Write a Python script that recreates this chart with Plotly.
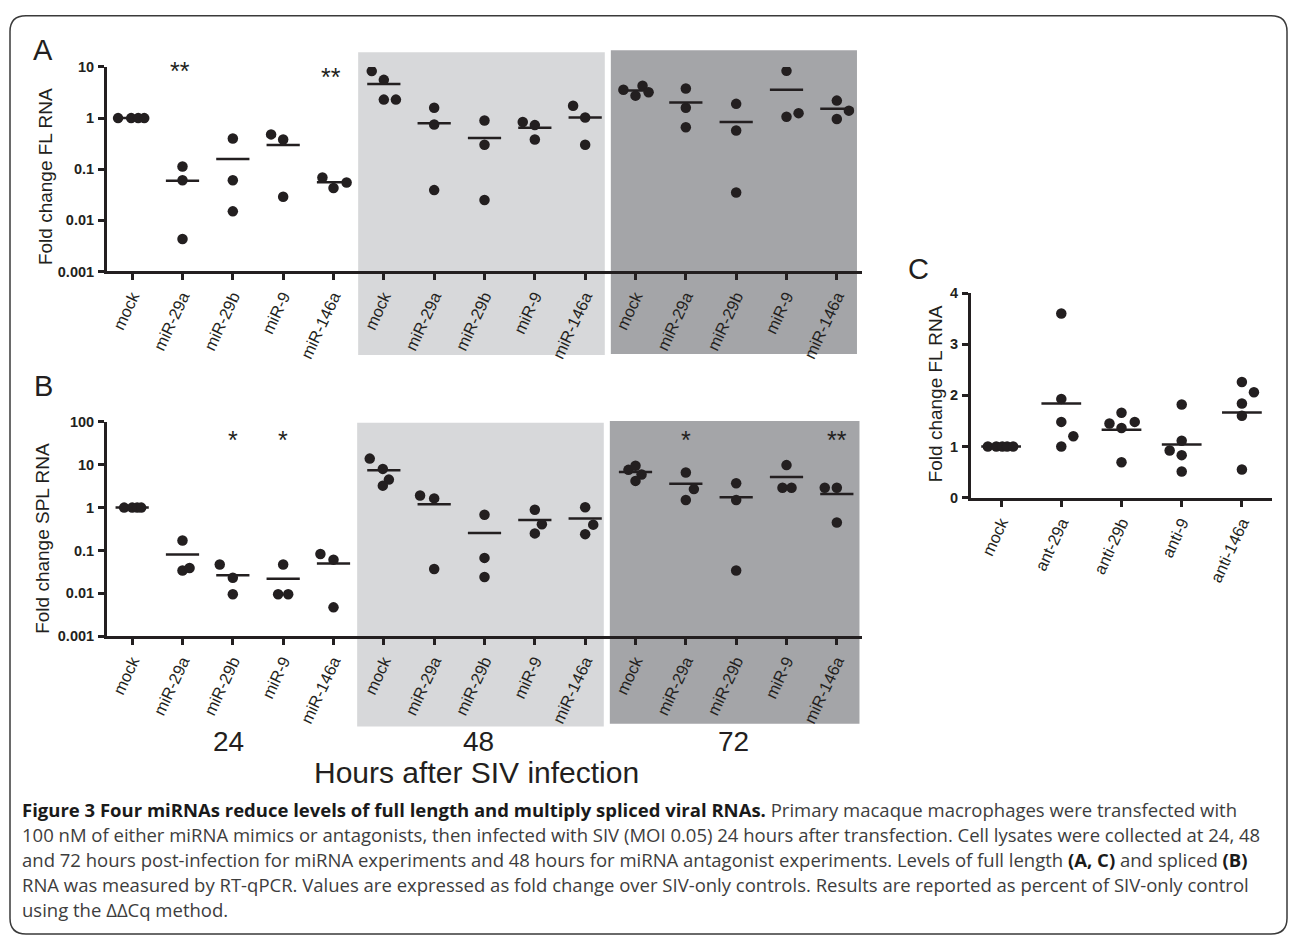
import numpy as np
import plotly.graph_objects as go

W, H = 1290, 945

# ---------------- data ----------------
mimic_labels = ["mock", "miR-29a", "miR-29b", "miR-9", "miR-146a"]
hour_labels = ["24", "48", "72"]
antag_labels = ["mock", "ant-29a", "anti-29b", "anti-9", "anti-146a"]

# Panel A: fold change FL RNA (15 groups: 24h, 48h, 72h x 5 treatments)
fl_values = [
    [1, 1, 1, 1], [0.113, 0.061, 0.0043], [0.40, 0.061, 0.015], [0.48, 0.38, 0.029], [0.069, 0.043, 0.055],
    [8.3, 5.6, 2.3, 2.3], [1.6, 0.75, 0.039], [0.90, 0.30, 0.025], [0.84, 0.73, 0.38], [1.74, 1.03, 0.30],
    [3.6, 4.3, 2.75, 3.2], [3.8, 1.6, 0.66], [1.9, 0.57, 0.035], [8.4, 1.06, 1.25], [2.2, 1.4, 0.96],
]
fl_jitter = [
    [-0.28, -0.02, 0.12, 0.24], [0, 0, 0], [0, 0, 0], [-0.24, 0, 0], [-0.22, 0, 0.26],
    [-0.24, 0, 0, 0.24], [0, 0, 0], [0, 0, 0], [-0.24, 0, 0], [-0.24, 0, 0],
    [-0.24, 0.14, 0, 0.26], [0, 0, 0], [0, 0, 0], [0, 0, 0.24], [0, 0.24, 0],
]
fl_sig = ["", "**", "", "", "**", "", "", "", "", "", "", "", "", "", ""]

# Panel B: fold change SPL RNA
spl_values = [
    [1, 1, 1, 1], [0.17, 0.034, 0.039], [0.047, 0.023, 0.0095], [0.047, 0.0095, 0.0095], [0.083, 0.061, 0.0047],
    [13.9, 8.0, 4.5, 3.25], [1.92, 1.64, 0.037], [0.68, 0.067, 0.024], [0.89, 0.41, 0.25], [1.02, 0.40, 0.24],
    [7.6, 9.5, 5.9, 4.2], [6.6, 2.7, 1.5], [3.7, 1.5, 0.034], [9.8, 2.9, 2.9], [2.9, 2.9, 0.45],
]
spl_jitter = [
    [-0.16, 0, 0.1, 0.18], [0, 0, 0.14], [-0.26, 0, 0], [0, -0.1, 0.1], [-0.26, 0, 0],
    [-0.28, -0.02, 0.1, -0.02], [-0.28, 0, 0], [0, 0, 0], [0, 0.14, 0], [0, 0.16, 0],
    [-0.14, 0, 0.12, 0], [0, 0.16, 0], [0, 0, 0], [0, -0.08, 0.1], [-0.24, 0, 0],
]
spl_sig = ["", "", "*", "*", "", "", "", "", "", "", "", "*", "", "", "**"]

# Panel C: fold change FL RNA, antagonists (48 h)
ant_values = [
    [1, 1, 1, 1, 1], [3.6, 1.93, 1.48, 1.2, 1.0], [1.66, 1.45, 1.48, 1.36, 0.69],
    [1.82, 1.11, 0.92, 0.83, 0.51], [2.26, 2.06, 1.84, 1.60, 0.55],
]
ant_jitter = [
    [-0.22, -0.08, 0.02, 0.1, 0.2], [0, 0, 0, 0.2, 0], [0, -0.2, 0.22, 0, 0],
    [0, 0, -0.2, 0, 0], [0, 0.2, 0, 0, 0],
]
ant_sig = ["", "*", "**", "", "*"]

# ---------------- helpers ----------------
INK = "#231f20"
FONT = "Liberation Sans, Arial, Helvetica, sans-serif"


def px_x(p):
    return p / W


def px_y(p):
    return 1 - p / H


def points(values, jitter):
    xs, ys = [], []
    for i, (vals, jit) in enumerate(zip(values, jitter)):
        for v, j in zip(vals, jit):
            xs.append(i + j)
            ys.append(v)
    return xs, ys


def means(values, hw=0.33):
    xs, ys = [], []
    for i, vals in enumerate(values):
        m = float(np.mean(vals))
        xs += [i - hw, i + hw, None]
        ys += [m, m, None]
    return xs, ys


fig = go.Figure()

panels = [
    (fl_values, fl_jitter, "x", "y"),
    (spl_values, spl_jitter, "x2", "y2"),
    (ant_values, ant_jitter, "x3", "y3"),
]
for vals, jit, xa, ya in panels:
    mx, my = means(vals)
    fig.add_trace(go.Scatter(x=mx, y=my, mode="lines", line=dict(color=INK, width=2.5),
                             xaxis=xa, yaxis=ya, hoverinfo="skip", showlegend=False))
    px_, py_ = points(vals, jit)
    fig.add_trace(go.Scatter(x=px_, y=py_, mode="markers",
                             marker=dict(color=INK, size=10.5, line=dict(width=0)),
                             xaxis=xa, yaxis=ya, showlegend=False))

cat_labels_ab = mimic_labels * len(hour_labels)

xcommon = dict(showline=True, linewidth=3, linecolor=INK, ticks="outside", ticklen=6,
               tickwidth=2.5, tickcolor=INK, tickangle=-65, showgrid=False, zeroline=False,
               tickfont=dict(family=FONT, size=16.5, color=INK))
ycommon = dict(showline=True, linewidth=3, linecolor=INK, ticks="outside", ticklen=6,
               tickwidth=2.5, tickcolor=INK, showgrid=False, zeroline=False,
               tickfont=dict(family=FONT, size=14.5, color=INK), ticklabelstandoff=1)

log_vals_a = [0.001, 0.01, 0.1, 1, 10]
log_text_a = ["<b>0.001</b>", "<b>0.01</b>", "<b>0.1</b>", "<b>1</b>", "<b>10</b>"]
log_vals_b = [0.001, 0.01, 0.1, 1, 10, 100]
log_text_b = ["<b>0.001</b>", "<b>0.01</b>", "<b>0.1</b>", "<b>1</b>", "<b>10</b>", "<b>100</b>"]

fig.update_layout(
    width=W, height=H, margin=dict(l=0, r=0, t=0, b=0),
    paper_bgcolor="white", plot_bgcolor="rgba(0,0,0,0)",
    showlegend=False,
    xaxis=dict(xcommon, domain=[px_x(107), px_x(862)], range=[-0.5, 14.5], anchor="y",
               tickmode="array", tickvals=list(range(15)), ticktext=cat_labels_ab),
    yaxis=dict(ycommon, type="log", domain=[px_y(268), px_y(60)], range=[-3, 1], anchor="x",
               tickmode="array", tickvals=log_vals_a, ticktext=log_text_a),
    xaxis2=dict(xcommon, domain=[px_x(107), px_x(862)], range=[-0.5, 14.5], anchor="y2",
                tickmode="array", tickvals=list(range(15)), ticktext=cat_labels_ab),
    yaxis2=dict(ycommon, type="log", domain=[px_y(639), px_y(421)], range=[-3, 2], anchor="x2",
                tickmode="array", tickvals=log_vals_b, ticktext=log_text_b),
    xaxis3=dict(xcommon, domain=[px_x(971), px_x(1272)], range=[-0.5, 4.5], anchor="y3",
                tickmode="array", tickvals=list(range(5)), ticktext=antag_labels),
    yaxis3=dict(ycommon, domain=[px_y(498), px_y(290)], range=[0, 4], anchor="x3",
                tickmode="array", tickvals=[0, 1, 2, 3, 4],
                ticktext=["<b>0</b>", "<b>1</b>", "<b>2</b>", "<b>3</b>", "<b>4</b>"]),
)

# ---------------- background boxes (48 h light, 72 h dark) ----------------
LIGHT = "#d7d8da"
DARK = "#a4a5a8"
shapes = []
for (x0, x1, y0, y1, col, xr) in [
    (4.49, 9.39, 45, 353, LIGHT, "x"), (9.51, 14.4, 43, 352, DARK, "x"),
    (4.47, 9.37, 422, 731, LIGHT, "x2"), (9.49, 14.45, 420, 728, DARK, "x2"),
]:
    shapes.append(dict(type="rect", xref=xr, yref="paper", x0=x0, x1=x1,
                       y0=px_y(y1), y1=px_y(y0), fillcolor=col, line=dict(width=0), layer="below"))

# rounded outer frame
fx0, fy0, fx1, fy1, r = 10, 8, 1287, 942, 16
rx, ry = r / W, r / H
X0, X1, Y0, Y1 = px_x(fx0), px_x(fx1), px_y(fy0), px_y(fy1)
path = (f"M {X0+rx},{Y0} L {X1-rx},{Y0} Q {X1},{Y0} {X1},{Y0-ry} L {X1},{Y1+ry} "
        f"Q {X1},{Y1} {X1-rx},{Y1} L {X0+rx},{Y1} Q {X0},{Y1} {X0},{Y1+ry} "
        f"L {X0},{Y0-ry} Q {X0},{Y0} {X0+rx},{Y0} Z")
shapes.append(dict(type="path", xref="paper", yref="paper", path=path,
                   line=dict(color="#3a3a3a", width=1.5), layer="below"))
fig.update_layout(shapes=shapes)

# ---------------- annotations ----------------
ann = []


def txt(x, y, text, size, angle=0, xanchor="center", yanchor="middle", color=INK, family=FONT):
    ann.append(dict(xref="paper", yref="paper", x=px_x(x), y=px_y(y), text=text, showarrow=False,
                    textangle=angle, xanchor=xanchor, yanchor=yanchor,
                    font=dict(family=family, size=size, color=color)))


# panel letters
txt(43, 43, "A", 29)
txt(43, 385, "B", 29)
txt(919, 265, "C", 29)

# y axis titles
txt(45, 172, "Fold change FL RNA", 19, angle=-90)
txt(43, 540, "Fold change SPL RNA", 19, angle=-90)
txt(935, 392, "Fold change FL RNA", 19, angle=-90)

# significance stars
STAR = 25
sig_y_a = [1.0 if i == 1 else 0.88 for i in range(15)]
for i, s in enumerate(fl_sig):
    if s:
        ann.append(dict(xref="x", yref="y", x=i - 0.04, y=sig_y_a[i], text=s, showarrow=False,
                        font=dict(family=FONT, size=STAR, color=INK), yanchor="middle", yshift=-4))
for i, s in enumerate(spl_sig):
    if s:
        ann.append(dict(xref="x2", yref="y2", x=i, y=1.66, text=s, showarrow=False,
                        font=dict(family=FONT, size=STAR, color=INK), yanchor="middle", yshift=-4))
for i, s in enumerate(ant_sig):
    if s:
        ann.append(dict(xref="x3", yref="y3", x=i, y=4.13, text=s, showarrow=False,
                        font=dict(family=FONT, size=STAR, color=INK), yanchor="middle", yshift=-4))

# hours labels
for h, xc in zip(hour_labels, [228, 478, 733]):
    txt(xc, 746, h, 28)
txt(476, 778, "Hours after SIV infection", 30)

# caption
CAP_FONT = "Open Sans, Noto Sans, sans-serif"
CAP_COL = "#3d3d3d"
caption_lines = [
    "<b style='color:#1a1a1a'>Figure 3 Four miRNAs reduce levels of full length and multiply spliced viral RNAs.</b> "
    "Primary macaque macrophages were transfected with",
    "100 nM of either miRNA mimics or antagonists, then infected with SIV (MOI 0.05) 24 hours after transfection. "
    "Cell lysates were collected at 24, 48",
    "and 72 hours post-infection for miRNA experiments and 48 hours for miRNA antagonist experiments. "
    "Levels of full length <b style='color:#1a1a1a'>(A, C)</b> and spliced <b style='color:#1a1a1a'>(B)</b>",
    "RNA was measured by RT-qPCR. Values are expressed as fold change over SIV-only controls. "
    "Results are reported as percent of SIV-only control",
    "using the \u0394\u0394Cq method.",
]
for k, line in enumerate(caption_lines):
    txt(20, 815 + k * 25.6, line, 18.5, xanchor="left", color=CAP_COL, family=CAP_FONT)

fig.update_layout(annotations=ann)

fig.write_html("out.html")
